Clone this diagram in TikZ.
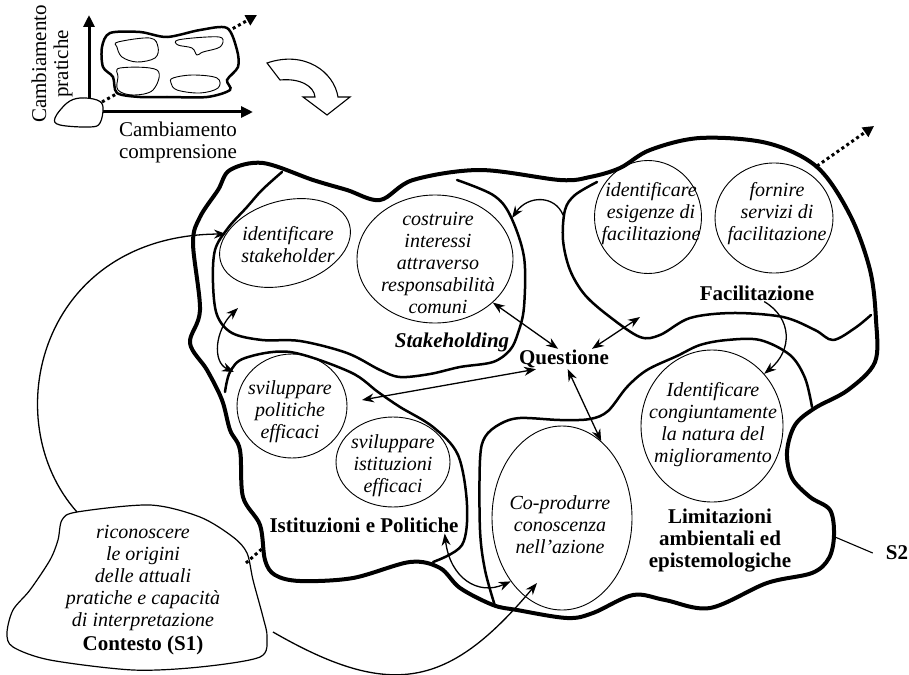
\documentclass[tikz,border=0pt]{standalone}
\usepackage{fontspec}
\setmainfont{Liberation Serif}
\usepackage{tikz}
\usetikzlibrary{shapes.geometric, arrows.meta, positioning, calc}

\begin{document}
\begin{tikzpicture}[
  x=1pt, y=-1pt,
  ring/.style={ellipse, draw, line width=0.9pt, inner sep=0pt},
  idea/.style={align=center, inner sep=0pt, font=\fontsize{20}{22}\selectfont\itshape},
  title/.style={align=center, inner sep=1pt, font=\fontsize{21}{22}\selectfont\bfseries},
  axislabel/.style={align=center, inner sep=0pt, font=\fontsize{21}{22}\selectfont},
  outer/.style={line width=4pt, line join=round},
  region/.style={line width=2.5pt, line cap=round, line join=round},
  blob/.style={line width=1.2pt},
  axis/.style={line width=3pt, -{Triangle[length=12pt, width=11pt]}},
  arrow/.style={-{Stealth[length=12pt, width=9pt]}, line width=1.3pt},
  biarrow/.style={{Stealth[length=12pt, width=9pt]}-{Stealth[length=12pt, width=9pt]}, line width=1.3pt},
  dotarrow/.style={line width=3pt, dash pattern=on 3pt off 3pt, -{Triangle[length=11pt, width=11pt]}}
]
\useasboundingbox (0,0) rectangle (909,674);

% small chart, top left
\draw[dotarrow] (102,102) -- (257,15);
\draw[axis] (89,100) -- (89,15);
\draw[axis] (103,112) -- (253,112);
\draw[blob, fill=white] plot[smooth cycle, tension=0.6] coordinates {(55,118) (67,103) (80,98) (97,100) (103,107) (100,123) (90,127) (60,125)};
\draw[line width=2.5pt, fill=white] plot[smooth cycle, tension=0.5] coordinates {(110,33) (140,32) (167,37) (200,30) (227,28) (237,50) (238,67) (227,80) (230,90) (207,97) (167,97) (140,97) (117,93) (113,77) (103,67) (102,47)};
\draw[line width=0.9pt] plot[smooth cycle, tension=0.6] coordinates {(118,42) (150,38) (158,47) (155,58) (137,62) (122,57) (117,47)};
\draw[line width=0.9pt] plot[smooth cycle, tension=0.6] coordinates {(178,40) (207,37) (222,38) (220,47) (203,52) (197,55) (192,48) (178,45)};
\draw[line width=0.9pt] plot[smooth cycle, tension=0.6] coordinates {(120,68) (157,70) (153,90) (133,95) (118,90) (118,77)};
\draw[line width=0.9pt] plot[smooth cycle, tension=0.6] coordinates {(173,78) (193,75) (217,78) (218,88) (200,93) (177,90) (171,83)};
\node[axislabel, rotate=90] (pratiche) at (52,64) {Cambiamento\\pratiche};
\node[axislabel] (comprensione) at (178,142) {Cambiamento\\comprensione};

% turning arrow
\draw[line width=1.1pt, fill=white] (267,63) -- (280,80) .. controls (300,78) and (314,86) .. (315,97)
  -- (303,97) -- (327,115) -- (350,97) -- (338,97) .. controls (334,72) and (305,50) .. (267,63) -- cycle;

% S2 outline
\draw[outer] plot[smooth cycle, tension=0.55] coordinates {
  (230,170) (263,163) (313,180) (347,190) (380,200) (413,180) (480,170) (560,180) (590,177)
  (620,168) (650,150) (700,138) (767,143) (817,167) (850,215) (870,270) (876,320) (875,362)
  (848,390) (815,408) (795,425) (787,452) (792,478) (810,497) (830,510) (834,535) (829,558)
  (812,573) (767,583) (710,608) (665,600) (633,595) (593,613) (567,618) (517,610) (493,605)
  (460,588) (440,568) (410,562) (353,578) (300,581) (275,575) (265,560) (260,525) (243,497)
  (240,450) (230,430) (222,400) (207,370) (190,343) (200,310) (193,243) (200,217) (218,190)};

% regions
\draw[region] plot[smooth, tension=0.55] coordinates {
  (282,172) (262,190) (247,207) (228,228) (215,250) (213,283) (217,315) (232,333) (262,340)
  (300,341) (347,353) (380,370) (400,377) (430,374) (460,367) (493,362) (510,350) (518,333)
  (524,307) (524,257) (510,215) (493,195) (457,180)};
\draw[region] plot[smooth, tension=0.55] coordinates {
  (597,182) (575,195) (565,210) (563,240) (570,270) (585,295) (610,317) (640,337) (660,335)
  (690,318) (733,313) (783,317) (815,330) (833,340) (855,328) (871,315)};
\draw[region] plot[smooth, tension=0.55] coordinates {
  (225,392) (230,372) (245,358) (290,352) (350,372) (378,392) (400,407) (433,427) (458,455)
  (467,505) (462,545) (433,562)};
\draw[region] plot[smooth, tension=0.55] coordinates {
  (495,606) (485,570) (480,530) (480,460) (485,437) (500,424) (520,418) (560,420) (590,419)
  (608,411) (627,387) (647,370) (677,356) (700,345) (727,340) (760,340) (790,355) (805,378)
  (812,407)};

% contesto
\draw[blob] plot[smooth cycle, tension=0.5] coordinates {
  (62,520) (77,512) (150,505) (200,517) (233,537) (247,553) (253,580) (263,617) (267,637)
  (260,657) (200,667) (133,670) (50,660) (13,647) (7,633) (13,610) (30,590) (50,560) (58,540)};
\node[idea] (ctx) at (143,578) {riconoscere\\le origini\\delle attuali\\pratiche e capacità\\di interpretazione};
\node[title, below=4pt of ctx] (ctxlabel) {Contesto (S1)};

% ellipses
\node[ring, rotate=16, minimum width=134, minimum height=84] (stk) at (285,243) {};
\node[idea] at (288,245) {identificare\\stakeholder};
\node[ring, minimum width=156, minimum height=128] (costr) at (435,259) {};
\node[idea] at (438,263) {costruire\\interessi\\attraverso\\responsabilità\\comuni};
\node[ring, minimum width=107, minimum height=113] (esig) at (648,217) {};
\node[idea] at (651,214) {identificare\\esigenze di\\facilitazione};
\node[ring, minimum width=118, minimum height=110] (serv) at (774,218) {};
\node[idea] at (777,214) {fornire\\servizi di\\facilitazione};
\node[ring, minimum width=110, minimum height=104] (pol) at (292,406) {};
\node[idea] at (290,412) {sviluppare\\politiche\\efficaci};
\node[ring, minimum width=114, minimum height=90] (ist) at (393,462) {};
\node[idea] at (393,466) {sviluppare\\istituzioni\\efficaci};
\node[ring, minimum width=142, minimum height=152] (idc) at (712,426) {};
\node[idea] at (713,425) {Identificare\\congiuntamente\\la natura del\\miglioramento};
\node[ring, minimum width=140, minimum height=184] (cop) at (562,518) {};
\node[idea] at (560,525) {Co-produrre\\conoscenza\\nell'azione};

% titles
\node[title] (fac) at (757,293) {Facilitazione};
\node[title, font=\fontsize{21}{22}\selectfont\bfseries\itshape] (stkh) at (452,342) {Stakeholding};
\node[title] (quest) at (564,359) {Questione};
\node[title] (istit) at (364,525) {Istituzioni e Politiche};
\node[title] (lim) at (720,541) {Limitazioni\\ambientali ed\\epistemologiche};
\node[title] (s2) at (897,553) {S2};

% free ends
\coordinate (facin) at (640,317);
\coordinate (istin) at (362,400);
\coordinate (stkin) at (238,308);
\coordinate (istup) at (234,372);
\coordinate (facl) at (563,215);
\coordinate (stkr) at (512,218);
\coordinate (ctxtop) at (77,512);
\coordinate (stkl) at (226,234);
\coordinate (ctxbot) at (273,632);
\coordinate (copin) at (537,583);
\coordinate (s2ne) at (817,166);
\coordinate (s2far) at (874,126);
\coordinate (ctxdot) at (246,563);
\coordinate (istdot) at (264,547);
\coordinate (s2edge) at (835,537);

% connectors
\draw[biarrow] (costr.-37) -- (quest.120);
\draw[biarrow] (quest.20) -- (facin);
\draw[biarrow] (quest.200) -- (istin);
\draw[biarrow] (quest.-70) -- (cop.63);
\draw[biarrow] (stkin) .. controls (215,330) and (212,362) .. (istup);
\draw[arrow] (facl) .. controls (555,195) and (528,195) .. (stkr);
\draw[arrow] (ctxtop) .. controls (-5,420) and (40,235) .. (stkl);
\draw[arrow] (ctxbot) to[out=-30, in=230, looseness=1.3] (copin);
\draw[biarrow] ([xshift=-15pt]istit.south east) .. controls (450,578) and (478,596) .. (cop.231);
\draw[arrow] (fac.-50) .. controls (792,318) and (793,350) .. (idc.45);
\draw[dotarrow] (s2ne) -- (s2far);
\draw[line width=3pt, dash pattern=on 3pt off 3pt] (ctxdot) -- (istdot);
\draw[line width=1.1pt] (s2edge) -- ([xshift=-12pt]s2.west);
\end{tikzpicture}
\end{document}
